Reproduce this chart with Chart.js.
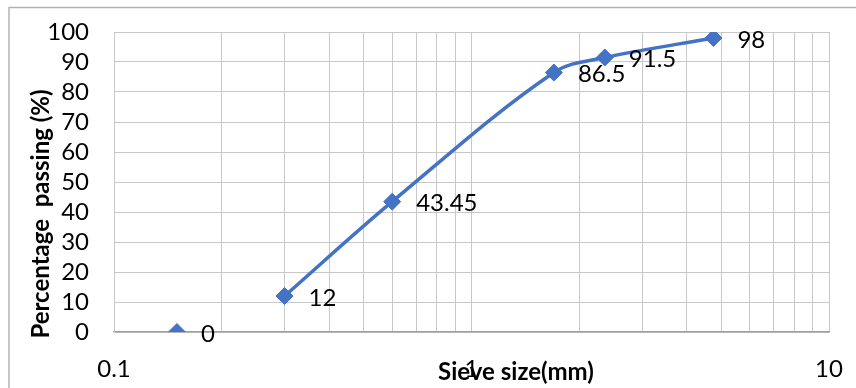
<!DOCTYPE html>
<html>
<head>
<meta charset="utf-8">
<script src="https://cdn.jsdelivr.net/npm/chart.js@4/dist/chart.umd.min.js"></script>
<style>
  html, body { margin: 0; padding: 0; background: #fff; }
  #wrap { width: 856px; height: 388px; }
</style>
</head>
<body>
<div id="wrap"><canvas id="c" width="856" height="388"></canvas></div>
<script>
// Sieve analysis: grading curve on a log sieve-size axis
const sieveSizes = [0.3, 0.6, 1.7, 2.36, 4.75];      // mm
const percentPassing = [12, 43.45, 86.5, 91.5, 98];  // %
const panSize = [0.15];                                // finest fraction, plotted alone
const panPassing = [0];
const xGridValues = [0.1, 0.2, 0.3, 0.4, 0.5, 0.6, 0.7, 0.8, 0.9, 1, 2, 3, 4, 5, 6, 7, 8, 9, 10];
const xTickLabels = ['0.1', '1', '10'];
const xTitle = 'Sieve size(mm)';
const yTitle = 'Percentage  passing (%)';

const blue = '#4472C4';
const FONT = 'Lato, "Open Sans", sans-serif';

const toPoints = (xs, ys) => xs.map((x, i) => ({ x: x, y: ys[i] }));

// Frame, axis titles and value labels
const decorations = {
  id: 'decorations',
  beforeDraw(chart) {
    const ctx = chart.ctx;
    ctx.save();
    ctx.fillStyle = '#fff';
    ctx.fillRect(0, 0, chart.width, chart.height);
    ctx.strokeStyle = '#b4b4b4';
    ctx.lineWidth = 1.5;
    ctx.beginPath();
    ctx.moveTo(9, chart.height + 5);
    ctx.lineTo(9, 7.5);
    ctx.lineTo(chart.width + 5, 7.5);
    ctx.stroke();
    ctx.restore();
  },
  afterDatasetsDraw(chart) {
    const ctx = chart.ctx;
    ctx.save();
    ctx.fillStyle = '#000';
    ctx.font = '24px ' + FONT;
    ctx.textAlign = 'left';
    ctx.textBaseline = 'middle';
    chart.data.datasets.forEach((ds, di) => {
      const meta = chart.getDatasetMeta(di);
      meta.data.forEach((pt, i) => {
        ctx.fillText(String(ds.data[i].y), pt.x + 24, pt.y + 2);
      });
    });
    ctx.font = 'bold 24px ' + FONT;
    ctx.textAlign = 'center';
    ctx.fillText(xTitle, 516, 372);
    ctx.translate(41, 214);
    ctx.rotate(-Math.PI / 2);
    ctx.fillText(yTitle, 0, 0);
    ctx.restore();
  }
};

new Chart(document.getElementById('c'), {
  type: 'scatter',
  data: {
    datasets: [
      {
        data: toPoints(panSize, panPassing),
        showLine: false,
        pointStyle: 'rectRot',
        pointRadius: 8.5,
        pointHoverRadius: 8.5,
        backgroundColor: blue,
        borderColor: blue,
        borderWidth: 1
      },
      {
        data: toPoints(sieveSizes, percentPassing),
        showLine: true,
        tension: 0.35,
        borderColor: blue,
        borderWidth: 3.5,
        pointStyle: 'rectRot',
        pointRadius: 8.5,
        pointHoverRadius: 8.5,
        pointBackgroundColor: blue,
        pointBorderColor: blue,
        pointBorderWidth: 1
      }
    ]
  },
  options: {
    responsive: false,
    animation: false,
    devicePixelRatio: 1,
    layout: { padding: { left: 0, right: 27, top: 32, bottom: 0 } },
    plugins: { legend: { display: false }, tooltip: { enabled: false } },
    scales: {
      x: {
        type: 'logarithmic',
        min: 0.1,
        max: 10,
        afterBuildTicks(scale) {
          scale.ticks = xGridValues.map(v => ({ value: v }));
        },
        afterFit(scale) {
          scale.height = 56;
          scale.paddingLeft = 0;
          scale.paddingRight = 0;
        },
        grid: { color: '#c8c8c8', lineWidth: 1, drawTicks: false },
        border: { color: '#a0a0a0', width: 1.5 },
        ticks: {
          autoSkip: false,
          maxRotation: 0,
          padding: 23,
          color: '#000',
          font: { family: FONT, size: 24 },
          callback(v) {
            const s = String(Math.round(v * 10) / 10);
            return xTickLabels.includes(s) ? s : '';
          }
        }
      },
      y: {
        min: 0,
        max: 100,
        afterFit(scale) {
          scale.width = 114;
          scale.paddingTop = 0;
          scale.paddingBottom = 0;
        },
        grid: { color: '#c8c8c8', lineWidth: 1, drawTicks: false },
        border: { color: '#c8c8c8' },
        ticks: {
          stepSize: 10,
          autoSkip: false,
          padding: 25,
          color: '#000',
          font: { family: FONT, size: 24 }
        }
      }
    }
  },
  plugins: [decorations]
});
</script>
</body>
</html>
